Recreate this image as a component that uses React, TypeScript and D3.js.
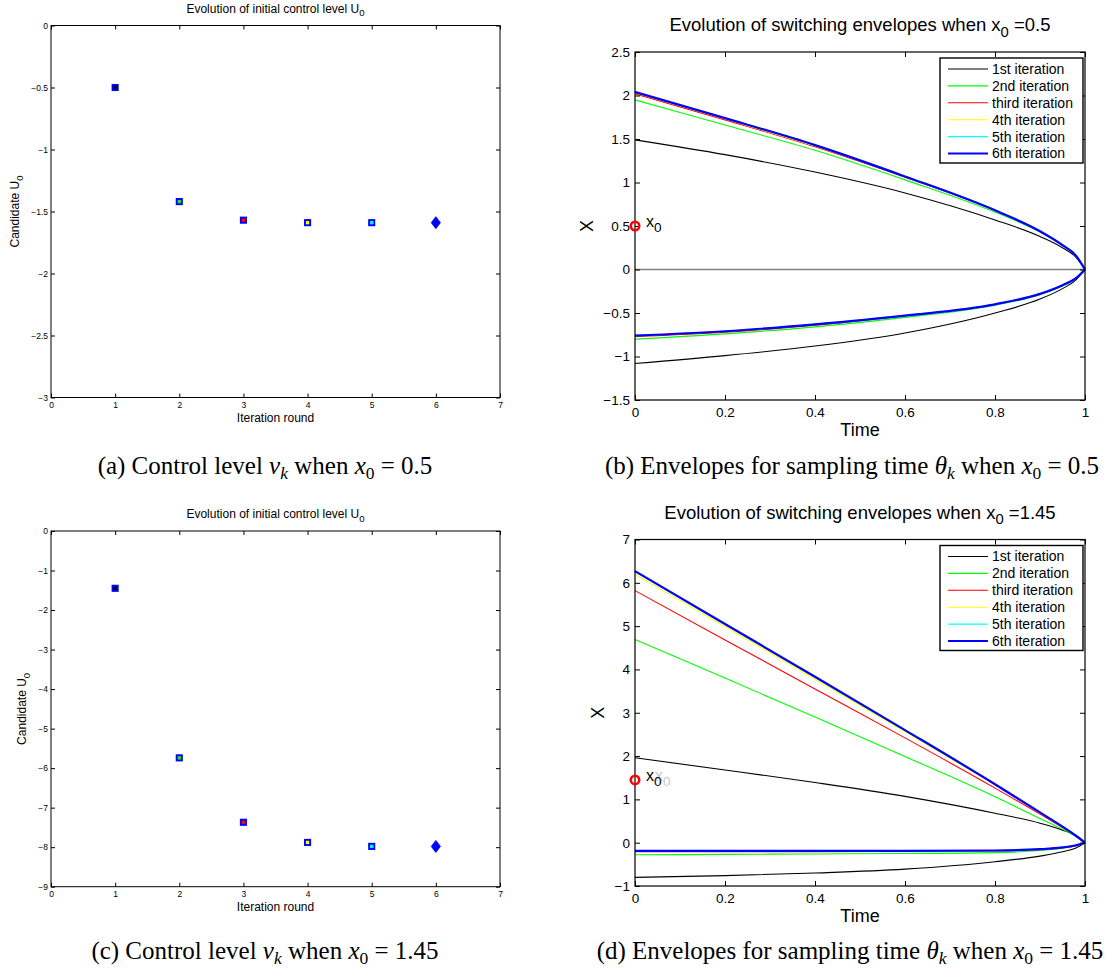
import React, { useRef, useEffect } from 'react';
import * as d3 from 'd3';

// Panels (a) and (c): candidate U0 per iteration round
const iterations = [1, 2, 3, 4, 5, 6];
const candidateU0Half = [-0.5, -1.42, -1.57, -1.59, -1.59, -1.59];
const candidateU0OneFortyFive = [-1.45, -5.74, -7.37, -7.88, -7.98, -7.98];

const iterationNames = ['1st iteration', '2nd iteration', 'third iteration', '4th iteration', '5th iteration', '6th iteration'];
const iterationColors = ['#000000', '#00ff00', '#ff0000', '#ffff00', '#00ffff', '#0000ff'];

// Panels (b) and (d): switching envelopes, sampled on this time grid
const timeGrid = [0, 0.2, 0.4, 0.6, 0.8, 0.9, 0.95, 0.98, 1];

const upperHalf = [
  [1.49, 1.32, 1.12, 0.88, 0.57, 0.38, 0.25, 0.14, 0],
  [1.95, 1.66, 1.37, 1.03, 0.66, 0.43, 0.28, 0.16, 0],
  [2.02, 1.72, 1.41, 1.06, 0.68, 0.44, 0.28, 0.16, 0],
  [2.03, 1.73, 1.42, 1.07, 0.68, 0.44, 0.28, 0.16, 0],
  [2.04, 1.74, 1.43, 1.07, 0.68, 0.44, 0.28, 0.16, 0],
  [2.04, 1.74, 1.43, 1.07, 0.68, 0.44, 0.28, 0.16, 0],
];
const lowerHalf = [
  [-1.08, -0.99, -0.88, -0.73, -0.50, -0.34, -0.22, -0.12, 0],
  [-0.80, -0.74, -0.66, -0.55, -0.41, -0.29, -0.19, -0.10, 0],
  [-0.77, -0.72, -0.64, -0.53, -0.40, -0.28, -0.18, -0.10, 0],
  [-0.76, -0.71, -0.63, -0.53, -0.40, -0.28, -0.18, -0.10, 0],
  [-0.76, -0.71, -0.63, -0.53, -0.40, -0.28, -0.18, -0.10, 0],
  [-0.76, -0.71, -0.63, -0.53, -0.40, -0.28, -0.18, -0.10, 0],
];
const upperOneFortyFive = [
  [1.96, 1.68, 1.39, 1.07, 0.68, 0.45, 0.29, 0.16, 0],
  [4.69, 3.80, 2.90, 1.99, 1.06, 0.56, 0.31, 0.14, 0],
  [5.82, 4.68, 3.55, 2.42, 1.26, 0.66, 0.35, 0.15, 0],
  [6.20, 4.99, 3.78, 2.56, 1.33, 0.69, 0.36, 0.16, 0],
  [6.26, 5.04, 3.82, 2.59, 1.35, 0.70, 0.37, 0.16, 0],
  [6.27, 5.05, 3.83, 2.60, 1.35, 0.70, 0.37, 0.16, 0],
];
const lowerOneFortyFive = [
  [-0.80, -0.76, -0.70, -0.61, -0.44, -0.31, -0.21, -0.12, 0],
  [-0.28, -0.27, -0.26, -0.25, -0.23, -0.18, -0.13, -0.07, 0],
  [-0.21, -0.21, -0.21, -0.20, -0.19, -0.16, -0.12, -0.07, 0],
  [-0.19, -0.19, -0.19, -0.19, -0.18, -0.15, -0.11, -0.06, 0],
  [-0.19, -0.19, -0.19, -0.19, -0.18, -0.15, -0.11, -0.06, 0],
  [-0.19, -0.19, -0.19, -0.19, -0.18, -0.15, -0.11, -0.06, 0],
];

// Tick values
const roundTicks = [0, 1, 2, 3, 4, 5, 6, 7];
const u0TicksHalf = [0, -0.5, -1, -1.5, -2, -2.5, -3];
const u0TicksOneFortyFive = [0, -1, -2, -3, -4, -5, -6, -7, -8, -9];
const timeTicks = [0, 0.2, 0.4, 0.6, 0.8, 1];
const stateTicksHalf = [-1.5, -1, -0.5, 0, 0.5, 1, 1.5, 2, 2.5];
const stateTicksOneFortyFive = [-1, 0, 1, 2, 3, 4, 5, 6, 7];

const SANS = '"Liberation Sans", Arial, sans-serif';
const SERIF = '"Liberation Serif", "Times New Roman", serif';

// text with a subscript in the middle, e.g. "x" + "0" + " =0.5"
function subText(g, x, y, parts, fs, opts = {}) {
  const t = g.append('text')
    .attr('x', x).attr('y', y)
    .attr('font-size', fs)
    .attr('font-family', opts.family || SANS)
    .attr('fill', opts.fill || '#000')
    .attr('text-anchor', opts.anchor || 'middle');
  if (opts.transform) t.attr('transform', opts.transform);
  let shift = 0;
  parts.forEach(p => {
    const ts = t.append('tspan').text(p.text);
    const target = p.sub ? fs * 0.3 : 0;
    if (target !== shift) { ts.attr('dy', target - shift); shift = target; }
    if (p.sub) ts.attr('font-size', fs * (p.scale || 0.8));
    if (p.italic) ts.attr('font-style', 'italic');
  });
  return t;
}

function drawBox(g, x, y, xTicks, yTicks, fs, tick, xPad, yPad, sw) {
  const [x0, x1] = x.range();
  const [y0, y1] = y.range();
  const fmt = d3.format('');
  const style = a => a
    .call(s => s.select('.domain').remove())
    .call(s => s.selectAll('line').attr('stroke', '#000'))
    .call(s => s.selectAll('text').attr('fill', '#000'))
    .attr('font-size', fs)
    .attr('font-family', SANS);

  g.append('g').attr('transform', `translate(0,${y0})`)
    .call(d3.axisBottom(x).tickValues(xTicks).tickSizeInner(-tick).tickSizeOuter(0).tickPadding(xPad).tickFormat(fmt))
    .call(style);
  g.append('g').attr('transform', `translate(0,${y1})`)
    .call(d3.axisTop(x).tickValues(xTicks).tickSizeInner(-tick).tickSizeOuter(0).tickFormat(() => ''))
    .call(style);
  g.append('g').attr('transform', `translate(${x0},0)`)
    .call(d3.axisLeft(y).tickValues(yTicks).tickSizeInner(-tick).tickSizeOuter(0).tickPadding(yPad).tickFormat(fmt))
    .call(style);
  g.append('g').attr('transform', `translate(${x1},0)`)
    .call(d3.axisRight(y).tickValues(yTicks).tickSizeInner(-tick).tickSizeOuter(0).tickFormat(() => ''))
    .call(style);

  g.append('rect')
    .attr('x', x0).attr('y', y1)
    .attr('width', x1 - x0).attr('height', y0 - y1)
    .attr('fill', 'none').attr('stroke', '#000').attr('stroke-width', sw);
}

function drawControlPanel(svg, values, yTicks, top, bottom, yLabelX) {
  const g = svg.append('g');
  const x = d3.scaleLinear().domain([0, 7]).range([51, 500]);
  const y = d3.scaleLinear().domain([yTicks[yTicks.length - 1], 0]).range([bottom, top]);

  drawBox(g, x, y, roundTicks, yTicks, 8.5, 4, 4.5, 3, 1);

  subText(g, 275.5, top - 13, [{ text: 'Evolution of initial control level U' }, { text: '0', sub: true }], 12);
  g.append('text')
    .attr('x', 275.5).attr('y', bottom + 24)
    .attr('text-anchor', 'middle').attr('font-size', 12).attr('font-family', SANS)
    .text('Iteration round');
  const cy = (top + bottom) / 2;
  subText(g, yLabelX, cy, [{ text: 'Candidate U' }, { text: '0', sub: true }], 12,
    { transform: `rotate(-90,${yLabelX},${cy})` });

  iterations.forEach((it, i) => {
    const cx = x(it);
    const cyy = y(values[i]);
    if (i < iterations.length - 1) {
      g.append('rect')
        .attr('x', cx - 2.6).attr('y', cyy - 2.6)
        .attr('width', 5.2).attr('height', 5.2)
        .attr('fill', iterationColors[i])
        .attr('stroke', '#0000ff').attr('stroke-width', 1.9);
    } else {
      g.append('path')
        .attr('d', `M${cx},${cyy - 6}L${cx + 4.6},${cyy}L${cx},${cyy + 6}L${cx - 4.6},${cyy}Z`)
        .attr('fill', '#0000ff').attr('stroke', '#0000ff').attr('stroke-width', 0.8);
    }
  });
}

function drawEnvelopePanel(svg, upper, lower, yTicks, top, bottom, x0Value, x0Text, labelX, ghost, zeroLine) {
  const g = svg.append('g');
  const x = d3.scaleLinear().domain([0, 1]).range([635, 1085]);
  const y = d3.scaleLinear().domain([yTicks[0], yTicks[yTicks.length - 1]]).range([bottom, top]);

  if (zeroLine) {
    g.append('line')
      .attr('x1', x(0)).attr('x2', x(1))
      .attr('y1', y(0)).attr('y2', y(0))
      .attr('stroke', '#808080').attr('stroke-width', 1.6);
  }

  const line = d3.line()
    .x((d, i) => x(timeGrid[i]))
    .y(d => y(d))
    .curve(d3.curveMonotoneX);

  iterationNames.forEach((name, i) => {
    [upper[i], lower[i]].forEach(vals => {
      g.append('path')
        .attr('d', line(vals))
        .attr('fill', 'none')
        .attr('stroke', iterationColors[i])
        .attr('stroke-width', i === 5 ? 2.2 : 1.1);
    });
  });

  drawBox(g, x, y, timeTicks, yTicks, 13.5, 5, 7, 5, 1.2);

  // x0 marker
  const cx = x(0);
  const cy = y(x0Value);
  g.append('circle')
    .attr('cx', cx).attr('cy', cy).attr('r', 4.2)
    .attr('fill', 'none').attr('stroke', '#ff0000').attr('stroke-width', 2.6);
  if (ghost) {
    subText(g, cx + 20, cy + 1, [{ text: 'x' }, { text: '0', sub: true, scale: 0.85 }], 16,
      { anchor: 'start', fill: '#c8c8c8' });
  }
  subText(g, cx + 11, cy + 1, [{ text: 'x' }, { text: '0', sub: true, scale: 0.85 }], 16, { anchor: 'start' });

  subText(g, 860, top - 21, [
    { text: 'Evolution of switching envelopes when x' },
    { text: '0', sub: true },
    { text: ' =' + x0Text },
  ], 18.5);

  g.append('text')
    .attr('x', 860).attr('y', bottom + 36)
    .attr('text-anchor', 'middle').attr('font-size', 18).attr('font-family', SANS)
    .text('Time');
  const my = (top + bottom) / 2;
  g.append('text')
    .attr('x', labelX).attr('y', my)
    .attr('transform', `rotate(-90,${labelX},${my})`)
    .attr('dy', '0.35em')
    .attr('text-anchor', 'middle').attr('font-size', 18).attr('font-family', SANS)
    .text('X');

  // legend
  const lg = g.append('g').attr('transform', `translate(940,${top + 6})`);
  lg.append('rect')
    .attr('width', 143).attr('height', 105)
    .attr('fill', '#fff').attr('stroke', '#000').attr('stroke-width', 1.4);
  iterationNames.forEach((name, i) => {
    const ry = 11 + i * 16.9;
    lg.append('line')
      .attr('x1', 8).attr('x2', 48).attr('y1', ry).attr('y2', ry)
      .attr('stroke', iterationColors[i]).attr('stroke-width', i === 5 ? 2.2 : 1.1);
    lg.append('text')
      .attr('x', 52).attr('y', ry).attr('dy', '0.35em')
      .attr('font-size', 14).attr('font-family', SANS)
      .text(name);
  });
}

function caption(svg, cx, y, label, parts) {
  const t = svg.append('text')
    .attr('x', cx).attr('y', y)
    .attr('text-anchor', 'middle')
    .attr('font-size', 25)
    .attr('font-family', SERIF);
  t.append('tspan').text(label);
  let shift = 0;
  parts.forEach(p => {
    const ts = t.append('tspan').text(p.text);
    const target = p.sub ? 5 : 0;
    if (target !== shift) { ts.attr('dy', target - shift); shift = target; }
    if (p.sub) ts.attr('font-size', 17.5);
    if (p.italic) ts.attr('font-style', 'italic');
  });
}

export default function App() {
  const svgRef = useRef(null);

  useEffect(() => {
    const svg = d3.select(svgRef.current);
    svg.selectAll('*').remove();

    svg.append('rect').attr('width', 1107).attr('height', 974).attr('fill', '#fff');

    drawControlPanel(svg, candidateU0Half, u0TicksHalf, 25.5, 397.5, 19);
    drawControlPanel(svg, candidateU0OneFortyFive, u0TicksOneFortyFive, 531, 886.7, 26);

    drawEnvelopePanel(svg, upperHalf, lowerHalf, stateTicksHalf, 52, 400, 0.5, '0.5', 587, false, true);
    drawEnvelopePanel(svg, upperOneFortyFive, lowerOneFortyFive, stateTicksOneFortyFive, 539.5, 886, 1.45, '1.45', 598, true, false);

    caption(svg, 265, 474, '(a)  Control level ', [
      { text: 'ν', italic: true }, { text: 'k', italic: true, sub: true },
      { text: ' when ' }, { text: 'x', italic: true }, { text: '0', sub: true }, { text: ' = 0.5' },
    ]);
    caption(svg, 852, 474, '(b)  Envelopes for sampling time ', [
      { text: 'θ', italic: true }, { text: 'k', italic: true, sub: true },
      { text: ' when ' }, { text: 'x', italic: true }, { text: '0', sub: true }, { text: ' = 0.5' },
    ]);
    caption(svg, 265, 959, '(c)  Control level ', [
      { text: 'ν', italic: true }, { text: 'k', italic: true, sub: true },
      { text: ' when ' }, { text: 'x', italic: true }, { text: '0', sub: true }, { text: ' = 1.45' },
    ]);
    caption(svg, 850, 959, '(d)  Envelopes for sampling time ', [
      { text: 'θ', italic: true }, { text: 'k', italic: true, sub: true },
      { text: ' when ' }, { text: 'x', italic: true }, { text: '0', sub: true }, { text: ' = 1.45' },
    ]);
  }, []);

  return (
    <svg
      ref={svgRef}
      width={1107}
      height={974}
      style={{ position: 'absolute', left: 0, top: 0, display: 'block' }}
    />
  );
}
